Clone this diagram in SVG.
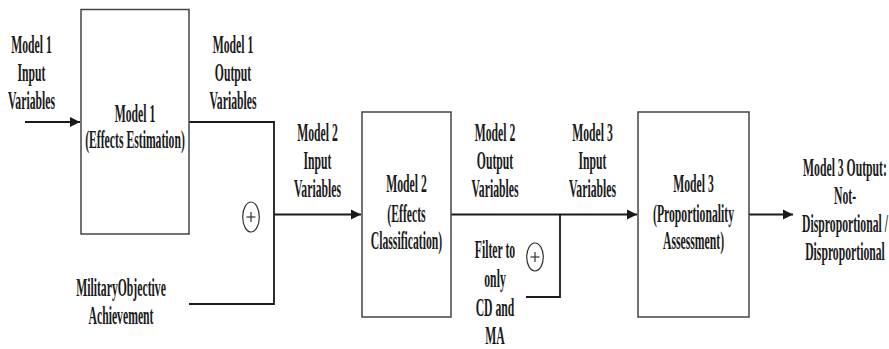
<svg xmlns="http://www.w3.org/2000/svg" width="889" height="349" viewBox="0 0 889 349">
<style>
  text { font-family: "Liberation Serif", "Times New Roman", serif; font-weight: bold; font-size: 26px; fill: #1a1a1a; text-anchor: middle; }
  .box { fill: #ffffff; stroke: #444444; stroke-width: 1.5; }
  .wire { fill: none; stroke: #1a1a1a; stroke-width: 1.8; }
  .sum { fill: #ffffff; stroke: #333333; stroke-width: 1.2; }
</style>
<defs>
  <marker id="arr" viewBox="0 0 10 10" refX="10" refY="5" markerWidth="10" markerHeight="11" markerUnits="userSpaceOnUse" orient="auto">
    <path d="M0,0 L10,5 L0,10 Z" fill="#1a1a1a"/>
  </marker>
</defs>
<rect width="889" height="349" fill="#ffffff"/>

<g id="connectors">
  <line class="wire" x1="25" y1="122" x2="80" y2="122" marker-end="url(#arr)"/>
  <polyline class="wire" points="189,122 274,122 274,304 189,304"/>
  <line class="wire" x1="274" y1="214.5" x2="361" y2="214.5" marker-end="url(#arr)"/>
  <line class="wire" x1="451" y1="214.5" x2="637" y2="214.5" marker-end="url(#arr)"/>
  <polyline class="wire" points="560,214.5 560,297 526,297"/>
  <line class="wire" x1="749" y1="214.5" x2="793" y2="214.5" marker-end="url(#arr)"/>
</g>

<g id="sum1">
  <ellipse class="sum" cx="251" cy="217" rx="8.3" ry="15"/>
  <line x1="246.5" y1="217" x2="255.5" y2="217" stroke="#333" stroke-width="1.2"/>
  <line x1="251" y1="212" x2="251" y2="222" stroke="#333" stroke-width="1.2"/>
</g>
<g id="sum2">
  <ellipse class="sum" cx="535" cy="257" rx="8.3" ry="14"/>
  <line x1="530.5" y1="257" x2="539.5" y2="257" stroke="#333" stroke-width="1.2"/>
  <line x1="535" y1="252" x2="535" y2="262" stroke="#333" stroke-width="1.2"/>
</g>

<g id="model1-input">
  <text transform="translate(31.5,53) scale(0.45,1)">Model 1</text>
  <text transform="translate(31.5,81) scale(0.45,1)">Input</text>
  <text transform="translate(31.5,109) scale(0.45,1)">Variables</text>
</g>
<g id="model1">
  <rect class="box" x="81" y="9.5" width="108" height="224.5"/>
  <text transform="translate(135,122) scale(0.45,1)">Model 1</text>
  <text transform="translate(135,148) scale(0.45,1)">(Effects Estimation)</text>
</g>
<g id="model1-output">
  <text transform="translate(233,53) scale(0.45,1)">Model 1</text>
  <text transform="translate(233,81) scale(0.45,1)">Output</text>
  <text transform="translate(233,109) scale(0.45,1)">Variables</text>
</g>
<g id="military-objective">
  <text transform="translate(121,296) scale(0.45,1)">MilitaryObjective</text>
  <text transform="translate(121,324) scale(0.45,1)">Achievement</text>
</g>
<g id="model2-input">
  <text transform="translate(317.5,141) scale(0.45,1)">Model 2</text>
  <text transform="translate(317.5,169) scale(0.45,1)">Input</text>
  <text transform="translate(317.5,197) scale(0.45,1)">Variables</text>
</g>
<g id="model2">
  <rect class="box" x="362" y="112" width="89" height="205"/>
  <text transform="translate(406.5,192) scale(0.45,1)">Model 2</text>
  <text transform="translate(406.5,221.5) scale(0.45,1)">(Effects</text>
  <text transform="translate(406.5,249) scale(0.45,1)">Classification)</text>
</g>
<g id="model2-output">
  <text transform="translate(495,141) scale(0.45,1)">Model 2</text>
  <text transform="translate(495,169) scale(0.45,1)">Output</text>
  <text transform="translate(495,197) scale(0.45,1)">Variables</text>
</g>
<g id="filter">
  <text transform="translate(495,258) scale(0.45,1)">Filter to</text>
  <text transform="translate(495,287) scale(0.45,1)">only</text>
  <text transform="translate(495,316) scale(0.45,1)">CD and</text>
  <text transform="translate(495,344) scale(0.45,1)">MA</text>
</g>
<g id="model3-input">
  <text transform="translate(592.5,141) scale(0.45,1)">Model 3</text>
  <text transform="translate(592.5,169) scale(0.45,1)">Input</text>
  <text transform="translate(592.5,197) scale(0.45,1)">Variables</text>
</g>
<g id="model3">
  <rect class="box" x="638" y="112" width="111" height="205"/>
  <text transform="translate(693.5,192) scale(0.45,1)">Model 3</text>
  <text transform="translate(693.5,221.5) scale(0.45,1)">(Proportionality</text>
  <text transform="translate(693.5,249) scale(0.45,1)">Assessment)</text>
</g>
<g id="model3-output">
  <text transform="translate(845,176) scale(0.45,1)">Model 3 Output:</text>
  <text transform="translate(845,204) scale(0.45,1)">Not-</text>
  <text transform="translate(845,232) scale(0.45,1)">Disproportional /</text>
  <text transform="translate(845,260) scale(0.45,1)">Disproportional</text>
</g>
</svg>
